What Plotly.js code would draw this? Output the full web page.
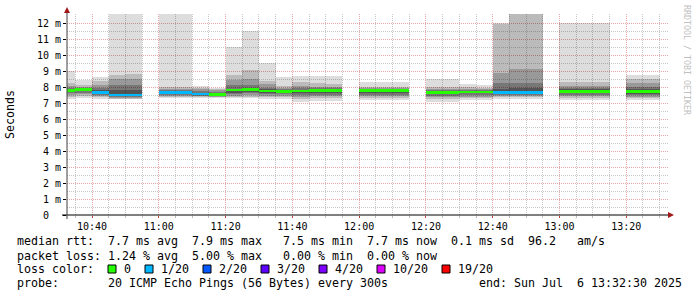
<!DOCTYPE html>
<html><head><meta charset="utf-8">
<script src="https://cdn.plot.ly/plotly-3.0.1.min.js"></script>
<style>html,body{margin:0;padding:0;background:#fff}#chart{width:697px;height:297px}</style>
</head><body><div id="chart"></div>
<script>
// ---- data (ms) : 5-minute samples, time = end of interval ----
const day = '2025-07-06 ';
const times = ['10:35','10:40','10:45','10:50','10:55','11:05','11:10','11:15','11:20','11:25','11:30','11:35','11:40','11:45','11:50','11:55','12:05','12:10','12:15','12:25','12:30','12:35','12:40','12:45','12:50','12:55','13:05','13:10','13:15','13:25','13:30'];
const maxV = [9.0,8.45,8.62,13.5,13.5,13.5,13.5,8.05,7.95,10.5,11.5,9.48,8.62,8.7,8.7,8.68,8.3,8.3,8.3,8.5,8.5,8.2,8.12,12.0,13.5,13.5,12.0,12.0,12.0,8.75,8.75];
const hi2  = [8.25,8.1,8.4,8.75,8.8,8.0,8.0,7.95,7.88,8.75,9.05,8.35,8.05,8.3,8.25,8.2,8.0,8.02,8.0,8.0,7.98,7.98,7.95,11.95,13.0,13.0,8.33,8.33,8.3,8.5,8.5];
const hi3  = [8.05,7.98,8.15,8.5,8.5,7.9,7.9,7.85,7.8,8.45,8.5,8.2,7.95,8.05,8.0,8.0,7.92,7.92,7.92,7.9,7.9,7.9,7.88,8.85,9.1,9.1,8.05,8.05,8.05,8.22,8.22];
const hi4  = [7.92,7.94,7.95,8.1,8.1,7.8,7.8,7.72,7.7,8.1,8.1,7.95,7.85,7.92,7.95,7.95,7.86,7.86,7.86,7.82,7.82,7.82,7.8,8.23,8.25,8.25,7.95,7.95,7.95,7.98,7.98];
const hi5  = [7.84,7.9,7.8,7.8,7.8,7.72,7.72,7.62,7.6,7.9,7.95,7.85,7.78,7.84,7.86,7.88,7.82,7.82,7.82,7.72,7.72,7.76,7.73,7.9,7.95,7.95,7.85,7.85,7.85,7.85,7.85];
const median=[7.78,7.85,7.65,7.5,7.5,7.65,7.65,7.55,7.52,7.8,7.85,7.75,7.72,7.76,7.78,7.78,7.78,7.78,7.78,7.65,7.65,7.7,7.68,7.65,7.65,7.65,7.73,7.73,7.73,7.72,7.72];
const lo5  = [7.7,7.75,7.55,7.42,7.42,7.58,7.58,7.5,7.47,7.65,7.7,7.65,7.62,7.6,7.62,7.62,7.6,7.6,7.6,7.55,7.55,7.6,7.6,7.55,7.55,7.55,7.6,7.6,7.6,7.58,7.58];
const lo4  = [7.6,7.65,7.5,7.38,7.38,7.52,7.52,7.45,7.43,7.55,7.6,7.55,7.55,7.5,7.52,7.52,7.5,7.5,7.5,7.45,7.45,7.5,7.5,7.48,7.48,7.48,7.5,7.5,7.5,7.48,7.48];
const lo3  = [7.5,7.55,7.45,7.33,7.33,7.46,7.46,7.42,7.4,7.45,7.5,7.45,7.45,7.4,7.42,7.42,7.42,7.42,7.42,7.35,7.35,7.4,7.4,7.42,7.42,7.42,7.42,7.42,7.42,7.4,7.4];
const lo2  = [7.4,7.45,7.35,7.28,7.28,7.4,7.4,7.38,7.37,7.38,7.4,7.35,7.35,7.25,7.3,7.3,7.32,7.32,7.32,7.22,7.22,7.3,7.3,7.35,7.35,7.35,7.32,7.32,7.32,7.3,7.3];
const minV = [7.25,7.3,7.25,7.22,7.22,7.33,7.33,7.33,7.33,7.3,7.3,7.25,7.25,7.08,7.1,7.12,7.2,7.2,7.2,7.08,7.08,7.2,7.2,7.25,7.25,7.25,7.2,7.2,7.2,7.2,7.2];
const loss = [0,0,1,1,1,1,1,1,0,0,0,0,0,0,0,0,0,0,0,0,0,0,0,1,1,1,0,0,0,0,0];

const lossLabels = ['0','1/20','2/20','3/20','4/20','10/20','19/20'];
const lossSteps  = [0,1,2,3,4,10,19];
const lossColors = ['#26ff00','#00b8ff','#0059ff','#5e00ff','#7e00ff','#dd00ff','#ff0000'];

const yTickVals = [0,1,2,3,4,5,6,7,8,9,10,11,12];
const yTickText = ['0\u00a0\u00a0','1 m','2 m','3 m','4 m','5 m','6 m','7 m','8 m','9 m','10 m','11 m','12 m'];

const legendRows = [
  [[0,'median rtt:'],[13,'7.7 ms avg'],[25,'7.9 ms max'],[38,'7.5 ms min'],[50,'7.7 ms now'],[62,'0.1 ms sd'],[73,'96.2'],[80,'am/s']],
  [[0,'packet loss:'],[13,'1.24 % avg'],[25,'5.00 % max'],[38,'0.00 % min'],[50,'0.00 % now']],
  [[0,'loss color:']],
  [[0,'probe:'],[13,'20 ICMP Echo Pings (56 Bytes) every 300s'],[66,'end: Sun Jul\u00a0 6 13:32:30 2025']]
];

// ---- geometry helpers (pixels -> paper) ----
const W=697,H=297,L=67,R=29,T=14,B=82;
const PW=W-L-R, PH=H-T-B;
const px=x=>(x-L)/PW, py=y=>(H-B-y)/PH;

const x = times.map(t=>day+t+':00');
const STEP = 300000;
const his=[maxV,hi2,hi3,hi4,hi5], los=[minV,lo2,lo3,lo4,lo5];
const greys=[221,187,153,119,85];
const traces=[];
function bar(base, h, color){
  traces.push({type:'bar', x:x, y:h, base:base, width:STEP, offset:-STEP,
    marker:{color:color, line:{width:0}}, hoverinfo:'skip', showlegend:false});
}
for(let i=0;i<5;i++){
  const col='rgba(0,0,0,'+(1-greys[i]/255).toFixed(3)+')';
  if(i<4){
    bar(his[i+1], his[i].map((v,k)=>v-his[i+1][k]), col);
    bar(los[i], los[i+1].map((v,k)=>v-los[i][k]), col);
  } else {
    bar(los[i], his[i].map((v,k)=>v-los[i][k]), col);
  }
}
const MT=0.16;
bar(median.map(v=>v-MT/2), median.map(()=>MT),
    loss.map(l=>{let c=lossColors[0];lossSteps.forEach((s,j)=>{if(l>=s)c=lossColors[j];});return c;}));

const mono='DejaVu Sans Mono';
const annotations=[], shapes=[];
const rowY=[241.3,255.5,269.3,283];
legendRows.forEach((row,r)=>row.forEach(([ci,txt])=>{
  annotations.push({xref:'paper',yref:'paper',x:px(16+7*ci),y:py(rowY[r]),xanchor:'left',yanchor:'middle',
    text:txt,showarrow:false,borderpad:0,font:{family:mono,size:11.63,color:'#000'}});
}));
let lx=123.3;
lossLabels.forEach((lab,j)=>{
  shapes.push({type:'rect',xref:'paper',yref:'paper',x0:px(lx-15.3),x1:px(lx-7.3),y0:py(273),y1:py(265),
    fillcolor:lossColors[j],line:{color:'#000',width:1}});
  annotations.push({xref:'paper',yref:'paper',x:px(lx),y:py(rowY[2]),xanchor:'left',yanchor:'middle',
    text:lab,showarrow:false,borderpad:0,font:{family:mono,size:11.63,color:'#000'}});
  lx += lab.length*7+30;
});
annotations.push({xref:'paper',yref:'paper',x:px(687),y:py(60),xanchor:'center',yanchor:'middle',textangle:90,
  text:'RRDTOOL / TOBI OETIKER',showarrow:false,font:{family:mono,size:8.3,color:'#c0c0c0'}});

// axis lines + arrows
shapes.push({type:'line',xref:'paper',yref:'paper',x0:px(62),x1:px(670),y0:0,y1:0,line:{color:'#000',width:1}});
shapes.push({type:'line',xref:'paper',yref:'paper',x0:0,x1:0,y0:py(219),y1:py(11),line:{color:'#404040',width:1}});
shapes.push({type:'path',xref:'paper',yref:'paper',
  path:`M ${px(67)} ${py(7)} L ${px(64)} ${py(13)} L ${px(70)} ${py(13)} Z`,fillcolor:'#a01818',line:{width:0}});
shapes.push({type:'path',xref:'paper',yref:'paper',
  path:`M ${px(674)} ${py(215)} L ${px(668)} ${py(212)} L ${px(668)} ${py(218)} Z`,fillcolor:'#a01818',line:{width:0}});

const majorGrid='#e6a6a6', minorGrid='#c8c8c8', dash='1px,1px';
const layout={
  width:W,height:H,margin:{l:L,r:R,t:T,b:B,pad:0},
  paper_bgcolor:'#fff',plot_bgcolor:'#fff',barmode:'overlay',bargap:0,showlegend:false,
  font:{family:mono,size:10,color:'#000'},
  xaxis:{type:'date',range:[day+'10:32:30',day+'13:32:30'],tick0:day+'10:00:00',dtick:1200000,tickformat:'%H:%M',
    showgrid:true,gridcolor:majorGrid,griddash:dash,gridwidth:1,ticks:'outside',ticklen:2,tickcolor:'#c04040',
    minor:{dtick:STEP,showgrid:true,gridcolor:minorGrid,griddash:dash,ticks:'outside',ticklen:2,tickcolor:'#bbbbbb'},
    showline:false,zeroline:false,fixedrange:true,tickfont:{family:mono,size:10,color:'#000'}},
  yaxis:{range:[0,12.5625],tickmode:'array',tickvals:yTickVals,ticktext:yTickText,
    showgrid:true,gridcolor:majorGrid,griddash:dash,gridwidth:1,ticks:'outside',ticklen:3,tickcolor:'#000',
    minor:{tickmode:'linear',tick0:0,dtick:0.5,showgrid:true,gridcolor:minorGrid,griddash:dash},
    showline:false,zeroline:false,fixedrange:true,tickfont:{family:mono,size:10,color:'#000'},
    title:{text:'Seconds',font:{family:mono,size:11.6,color:'#000'},standoff:19}},
  annotations:annotations,shapes:shapes
};
Plotly.newPlot('chart',traces,layout,{staticPlot:true,displayModeBar:false});
</script></body></html>
